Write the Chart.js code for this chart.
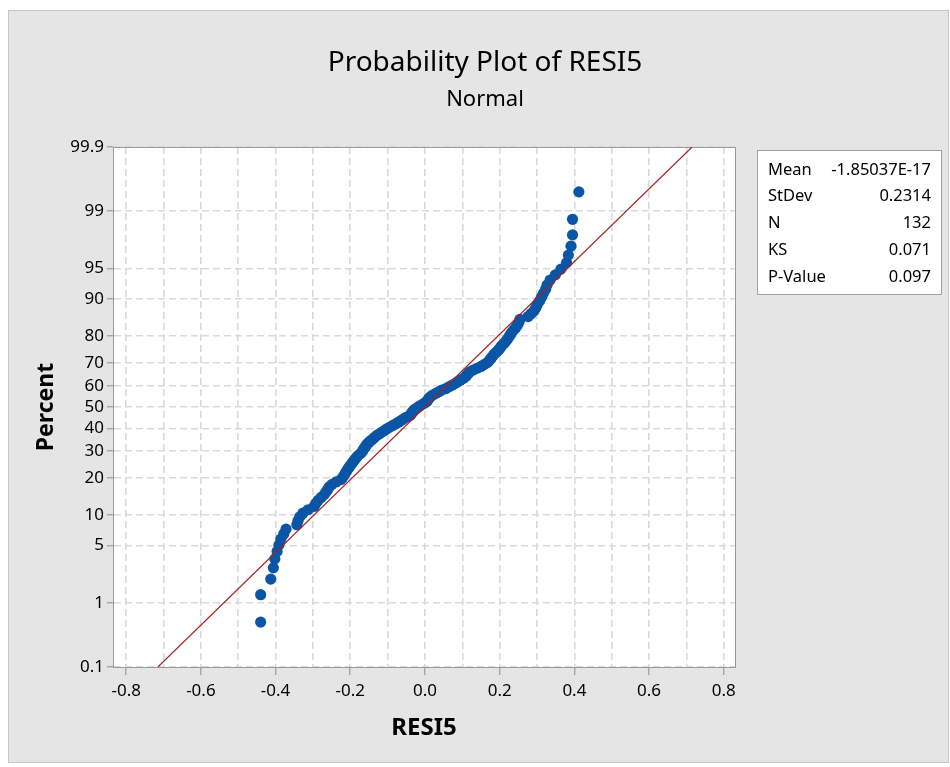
<!DOCTYPE html>
<html lang="en">
<head>
<meta charset="UTF-8">
<title>Probability Plot of RESI5</title>
<script src="https://cdn.jsdelivr.net/npm/chart.js"></script>
<style>
  body { margin: 0; background: #ffffff; }
  #wrap { width: 950px; height: 767px; }
</style>
</head>
<body>
<div id="wrap"><canvas id="probPlot"></canvas></div>
<script>
// residuals RESI5, sorted ascending
const residuals = [
  -0.440, -0.440, -0.413, -0.406, -0.402, -0.396, -0.391, -0.386, -0.378, -0.372,
  -0.343, -0.340, -0.335, -0.327, -0.313, -0.297, -0.292, -0.286, -0.278, -0.270,
  -0.265, -0.260, -0.256, -0.249, -0.238, -0.225, -0.220, -0.216, -0.213, -0.209,
  -0.206, -0.202, -0.198, -0.194, -0.190, -0.186, -0.182, -0.177, -0.171, -0.167,
  -0.165, -0.161, -0.158, -0.155, -0.150, -0.145, -0.139, -0.134, -0.129, -0.122,
  -0.115, -0.108, -0.102, -0.094, -0.086, -0.078, -0.071, -0.064, -0.058, -0.051,
  -0.041, -0.037, -0.035, -0.032, -0.028, -0.021, -0.015, -0.008, -0.001, 0.005,
  0.008, 0.011, 0.015, 0.021, 0.029, 0.037, 0.045, 0.056, 0.064, 0.072,
  0.080, 0.087, 0.094, 0.102, 0.108, 0.112, 0.116, 0.120, 0.129, 0.139,
  0.150, 0.158, 0.166, 0.171, 0.175, 0.179, 0.183, 0.187, 0.193, 0.198,
  0.202, 0.206, 0.212, 0.217, 0.221, 0.225, 0.229, 0.233, 0.238, 0.244,
  0.248, 0.252, 0.254, 0.276, 0.284, 0.292, 0.297, 0.301, 0.307, 0.312,
  0.317, 0.323, 0.327, 0.335, 0.349, 0.364, 0.379, 0.384, 0.391, 0.395,
  0.395, 0.412
];

const percentTicks = [0.1, 1, 5, 10, 20, 30, 40, 50, 60, 70, 80, 90, 95, 99, 99.9];
const xTicks = [-0.8, -0.7, -0.6, -0.5, -0.4, -0.3, -0.2, -0.1, 0, 0.1, 0.2, 0.3, 0.4, 0.5, 0.6, 0.7, 0.8];

const statLabels = ['Mean', 'StDev', 'N', 'KS', 'P-Value'];
const statValues = ['-1.85037E-17', '0.2314', '132', '0.071', '0.097'];
const fitMean = -1.85037E-17;
const fitStDev = 0.2314;

// inverse standard normal CDF (Acklam)
function normInv(p) {
  const a = [-3.969683028665376e+01, 2.209460984245205e+02, -2.759285104469687e+02, 1.383577518672690e+02, -3.066479806614716e+01, 2.506628277459239e+00];
  const b = [-5.447609879822406e+01, 1.615858368580409e+02, -1.556989798598866e+02, 6.680131188771972e+01, -1.328068155288572e+01];
  const c = [-7.784894002430293e-03, -3.223964580411365e-01, -2.400758277161838e+00, -2.549732539343734e+00, 4.374664141464968e+00, 2.938163982698783e+00];
  const d = [7.784695709041462e-03, 3.224671290700398e-01, 2.445134137142996e+00, 3.754408661907416e+00];
  const pLow = 0.02425;
  let q, r;
  if (p < pLow) {
    q = Math.sqrt(-2 * Math.log(p));
    return (((((c[0] * q + c[1]) * q + c[2]) * q + c[3]) * q + c[4]) * q + c[5]) / ((((d[0] * q + d[1]) * q + d[2]) * q + d[3]) * q + 1);
  }
  if (p > 1 - pLow) {
    q = Math.sqrt(-2 * Math.log(1 - p));
    return -(((((c[0] * q + c[1]) * q + c[2]) * q + c[3]) * q + c[4]) * q + c[5]) / ((((d[0] * q + d[1]) * q + d[2]) * q + d[3]) * q + 1);
  }
  q = p - 0.5;
  r = q * q;
  return (((((a[0] * r + a[1]) * r + a[2]) * r + a[3]) * r + a[4]) * r + a[5]) * q / (((((b[0] * r + b[1]) * r + b[2]) * r + b[3]) * r + b[4]) * r + 1);
}

// median rank (Benard) plotting positions on the normal scale
const n = residuals.length;
const points = residuals.map((v, i) => ({ x: v, y: normInv((i + 1 - 0.3) / (n + 0.4)) }));

const zMax = normInv(0.999);
const fitLine = [
  { x: fitMean - zMax * fitStDev, y: -zMax },
  { x: fitMean + zMax * fitStDev, y: zMax }
];

const FONT = '"Noto Sans", sans-serif';
Chart.defaults.font.family = FONT;
Chart.defaults.color = '#000';

// grey window behind the graph, white data region
const backdrop = {
  id: 'backdrop',
  beforeDraw(chart) {
    const { ctx, chartArea: a } = chart;
    ctx.save();
    ctx.fillStyle = '#ffffff';
    ctx.fillRect(0, 0, chart.width, chart.height);
    ctx.fillStyle = '#e5e5e5';
    ctx.fillRect(8, 10, 941, 753);
    ctx.strokeStyle = '#c6c6c6';
    ctx.lineWidth = 1;
    ctx.strokeRect(8.5, 10.5, 940, 752);
    ctx.fillStyle = '#ffffff';
    ctx.fillRect(a.left, a.top, a.right - a.left, a.bottom - a.top);
    ctx.restore();
  },
  beforeDatasetsDraw(chart) {
    const { ctx, chartArea: a } = chart;
    ctx.save();
    ctx.strokeStyle = '#9a9a9a';
    ctx.lineWidth = 1;
    ctx.strokeRect(Math.round(a.left) + 0.5, Math.round(a.top) + 0.5, Math.round(a.right - a.left), Math.round(a.bottom - a.top));
    ctx.restore();
  }
};

// summary statistics table to the right of the plot
const statsBox = {
  id: 'statsBox',
  afterDraw(chart) {
    const ctx = chart.ctx;
    ctx.save();
    ctx.fillStyle = '#ffffff';
    ctx.fillRect(757, 150, 185, 145);
    ctx.strokeStyle = '#a0a0a0';
    ctx.lineWidth = 1;
    ctx.strokeRect(757.5, 150.5, 184, 144);
    ctx.font = '16.5px ' + FONT;
    ctx.fillStyle = '#000';
    ctx.textBaseline = 'middle';
    statLabels.forEach((lab, i) => {
      const y = 170 + i * 26.7;
      ctx.textAlign = 'left';
      ctx.fillText(lab, 768, y);
      ctx.textAlign = 'right';
      ctx.fillText(statValues[i], 931, y);
    });
    ctx.restore();
  }
};

const isLabelled = v => Math.round(v * 10) % 2 === 0;

new Chart(document.getElementById('probPlot'), {
  type: 'scatter',
  data: {
    datasets: [
      {
        type: 'line',
        data: fitLine,
        borderColor: '#a52323',
        borderWidth: 1.2,
        pointRadius: 0,
        fill: false,
        order: 0
      },
      {
        data: points,
        backgroundColor: '#0a55a5',
        borderWidth: 0,
        pointRadius: 5.6,
        pointHoverRadius: 5.6,
        order: 1
      }
    ]
  },
  options: {
    responsive: true,
    maintainAspectRatio: false,
    animation: false,
    layout: { padding: { left: 20, right: 0, top: 10, bottom: 0 } },
    plugins: {
      legend: { display: false },
      tooltip: { enabled: false },
      title: {
        display: true,
        text: 'Probability Plot of RESI5',
        color: '#000',
        font: { size: 28, weight: 'normal' },
        padding: { top: 36, bottom: 4 }
      },
      subtitle: {
        display: true,
        text: 'Normal',
        color: '#000',
        font: { size: 22, weight: 'normal' },
        padding: { top: 3, bottom: 34 }
      }
    },
    scales: {
      x: {
        type: 'linear',
        min: -0.8353,
        max: 0.830,
        afterBuildTicks: s => { s.ticks = xTicks.map(v => ({ value: v })); },
        afterFit: s => { s.height = 100; },
        ticks: {
          autoSkip: false,
          maxRotation: 0,
          padding: 6,
          font: { size: 17 },
          color: '#000',
          callback: v => (isLabelled(v) ? v.toFixed(1) : '')
        },
        grid: {
          color: '#d9d9d9',
          lineWidth: 1.6,
          tickLength: 8,
          tickWidth: 1,
          tickColor: c => (c.tick && isLabelled(c.tick.value) ? '#8c8c8c' : 'rgba(0,0,0,0)')
        },
        border: { display: true, color: '#9a9a9a', width: 1, dash: [7, 4] },
        title: {
          display: true,
          text: 'RESI5',
          color: '#000',
          font: { size: 24, weight: 'bold' },
          padding: { top: 0, bottom: 24 }
        }
      },
      y: {
        type: 'linear',
        min: -zMax,
        max: zMax,
        afterBuildTicks: s => { s.ticks = percentTicks.map(p => ({ value: normInv(p / 100) })); },
        afterFit: s => { s.width = 93; },
        ticks: {
          autoSkip: false,
          padding: 3,
          font: { size: 17 },
          color: '#000',
          callback: (v, i) => String(percentTicks[i])
        },
        grid: {
          color: '#d9d9d9',
          lineWidth: 1.6,
          tickLength: 6,
          tickWidth: 1,
          tickColor: '#8c8c8c'
        },
        border: { display: true, color: '#9a9a9a', width: 1, dash: [7, 4] },
        title: {
          display: true,
          text: 'Percent',
          color: '#000',
          font: { size: 23, weight: 'bold' },
          padding: { top: 13, bottom: 0 }
        }
      },
      // empty right-hand band that holds the statistics table
      side: {
        type: 'linear',
        position: 'right',
        display: true,
        afterFit: s => { s.width = 215; },
        ticks: { display: false },
        grid: { display: false, drawTicks: false },
        border: { display: false }
      }
    }
  },
  plugins: [backdrop, statsBox]
});
</script>
</body>
</html>
